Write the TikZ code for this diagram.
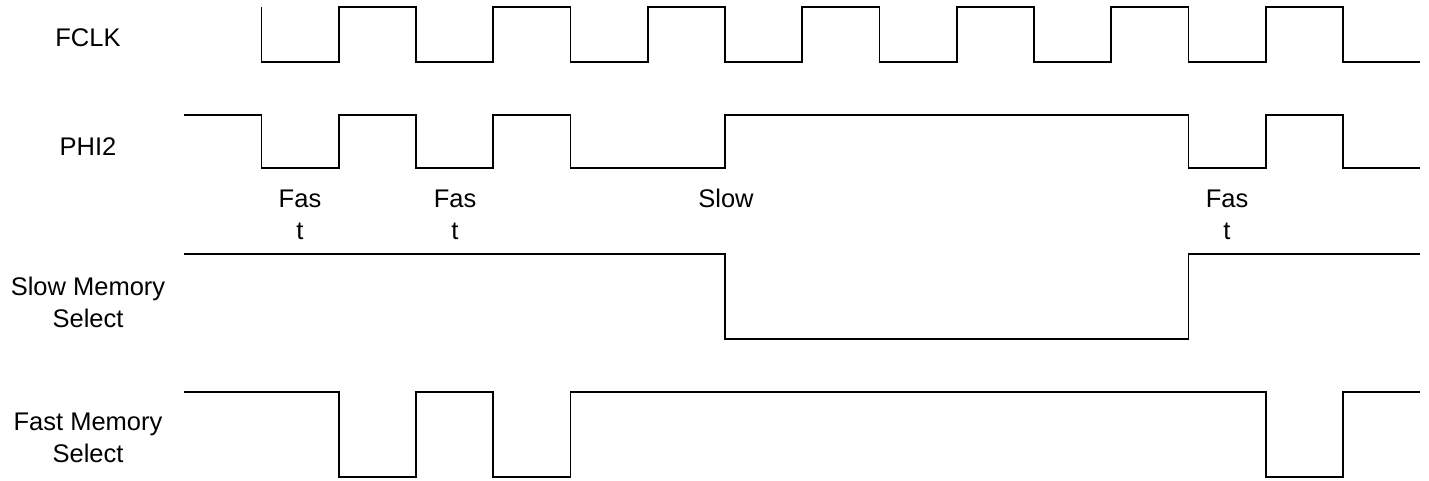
\documentclass[tikz,border=0pt]{standalone}
\usepackage{fontspec}
\setmainfont{Liberation Sans}
\begin{document}
\begin{tikzpicture}[x=1pt,y=-1pt,
  wave/.style={line width=1.9pt,line join=miter,black},
  lbl/.style={font=\fontsize{25.5}{31.5}\selectfont,align=center,inner sep=0pt,anchor=north}]
\useasboundingbox (0,0) rectangle (1429,481);
% edge positions
\def\xa{261.5}\def\xb{338.75}\def\xc{416}\def\xd{493.25}\def\xe{570.5}
\def\xf{647.75}\def\xg{725}\def\xh{802.25}\def\xi{879.5}\def\xj{956.75}
\def\xk{1034}\def\xl{1111.25}\def\xm{1188.5}\def\xn{1265.75}\def\xo{1343}
% FCLK
\draw[wave] (\xa,7) -- (\xa,62) -- (\xb,62) -- (\xb,7) -- (\xc,7) -- (\xc,62)
  -- (\xd,62) -- (\xd,7) -- (\xe,7) -- (\xe,62) -- (\xf,62) -- (\xf,7)
  -- (\xg,7) -- (\xg,62) -- (\xh,62) -- (\xh,7) -- (\xi,7) -- (\xi,62)
  -- (\xj,62) -- (\xj,7) -- (\xk,7) -- (\xk,62) -- (\xl,62) -- (\xl,7)
  -- (\xm,7) -- (\xm,62) -- (\xn,62) -- (\xn,7) -- (\xo,7) -- (\xo,62) -- (1420,62);
% PHI2
\draw[wave] (184,115) -- (\xa,115) -- (\xa,168) -- (\xb,168) -- (\xb,115) -- (\xc,115)
  -- (\xc,168) -- (\xd,168) -- (\xd,115) -- (\xe,115) -- (\xe,168) -- (\xg,168)
  -- (\xg,115) -- (\xm,115) -- (\xm,168) -- (\xn,168) -- (\xn,115) -- (\xo,115)
  -- (\xo,168) -- (1420,168);
% Slow Memory Select
\draw[wave] (184,254) -- (\xg,254) -- (\xg,339) -- (\xm,339) -- (\xm,254) -- (1420,254);
% Fast Memory Select
\draw[wave] (184,392) -- (\xb,392) -- (\xb,477) -- (\xc,477) -- (\xc,392) -- (\xd,392)
  -- (\xd,477) -- (\xe,477) -- (\xe,392) -- (\xn,392) -- (\xn,477) -- (\xo,477)
  -- (\xo,392) -- (1420,392);
% signal names
\node[lbl] (fclk) at (88,28) {FCLK};
\node[lbl] (phi) at (88,137) {PHI2};
\node[lbl] (sms) at (88,277) {Slow Memory\\Select};
\node[lbl] (fms) at (88,413) {Fast Memory\\Select};
% cycle labels
\node[lbl] (f1) at (300,190) {Fas\\t};
\node[lbl] (f2) at (455,190) {Fas\\t};
\node[lbl] (s1) at (726,189) {Slow};
\node[lbl] (f3) at (1227,190) {Fas\\t};
\end{tikzpicture}
\end{document}
